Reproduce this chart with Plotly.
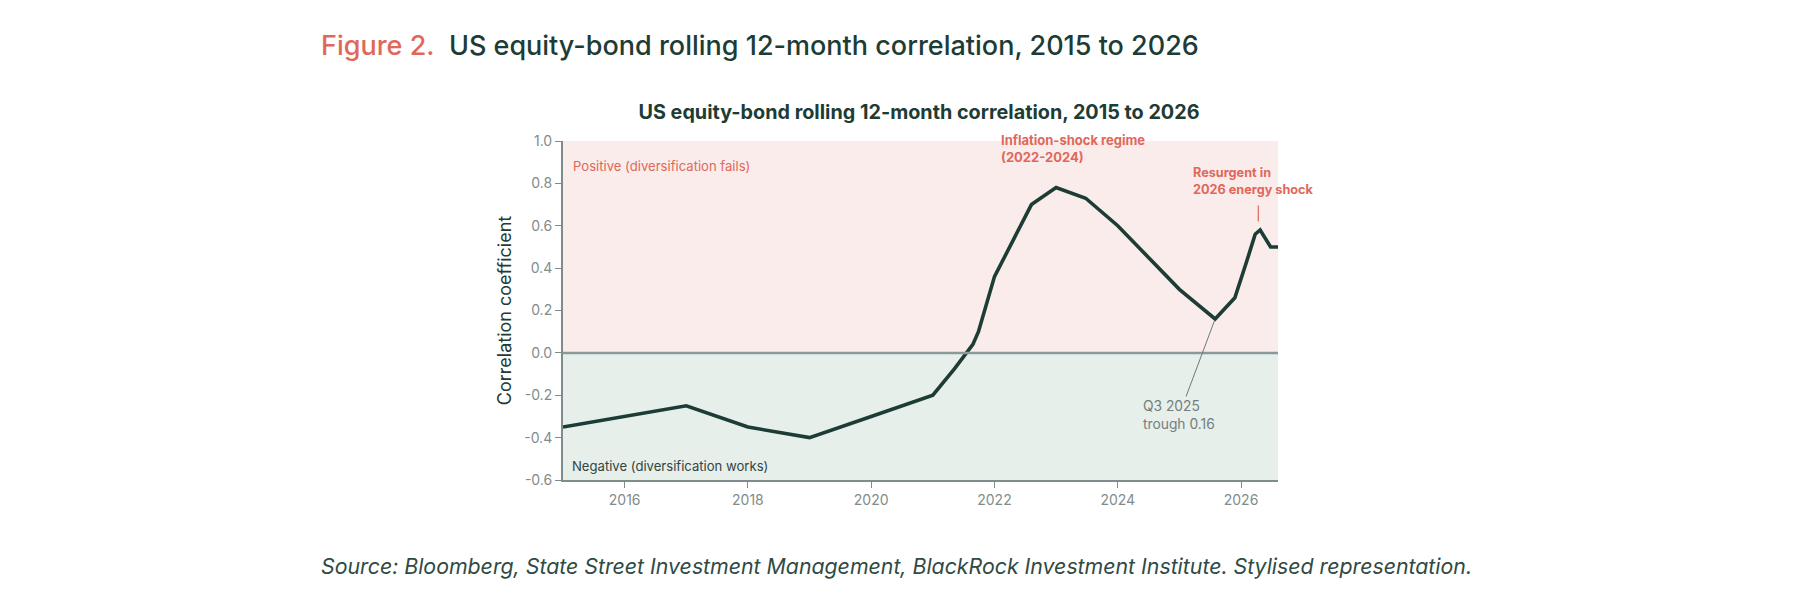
import plotly.graph_objects as go

# rolling 12-month correlation
years = [2015.0, 2016.0, 2017.0, 2018.0, 2019.0, 2020.0, 2021.0, 2021.35, 2021.65,
         2021.74, 2022.0, 2022.3, 2022.6, 2023.0, 2023.48, 2024.0, 2024.5, 2025.0,
         2025.58, 2025.9, 2026.09, 2026.23, 2026.31, 2026.48, 2026.6]
correlation = [-0.35, -0.30, -0.25, -0.35, -0.40, -0.30, -0.20, -0.075, 0.04,
               0.10, 0.36, 0.53, 0.70, 0.78, 0.73, 0.60, 0.45, 0.30,
               0.16, 0.26, 0.43, 0.56, 0.58, 0.50, 0.50]

x_ticks = [2016, 2018, 2020, 2022, 2024, 2026]
x_tick_labels = ["2016", "2018", "2020", "2022", "2024", "2026"]
y_ticks = [-0.6, -0.4, -0.2, 0.0, 0.2, 0.4, 0.6, 0.8, 1.0]
y_tick_labels = ["-0.6", "-0.4", "-0.2", "0.0", "0.2", "0.4", "0.6", "0.8", "1.0"]

trough_year, trough_value = 2025.58, 0.16
resurgence_year, resurgence_value = 2026.28, 0.62

DARK = "#1d3c35"
CORAL = "#e0685a"
GREY = "#7f8c8c"
FONT = "Inter"

# plot box in figure pixels
L, R, T, B = 555, 530, 133, 144
W, H = 1800 - L - R, 616 - T - B


def px(x):
    # page pixel -> paper x (page has an 8px body margin)
    return (x - 8 - L) / W


def py(y):
    return (616 - B - (y - 8)) / H


fig = go.Figure()

# shaded regimes
fig.add_hrect(y0=0, y1=1.0, fillcolor="#f9eceb", line_width=0, layer="below")
fig.add_hrect(y0=-0.6, y1=0, fillcolor="#e6efea", line_width=0, layer="below")
fig.add_hline(y=0, line=dict(color="#8c9999", width=2.5))

fig.add_trace(go.Scatter(
    x=years,
    y=correlation,
    mode="lines",
    line=dict(color=DARK, width=3.6),
    hoverinfo="x+y",
    showlegend=False
))

annotations = [
    # figure header
    dict(text="<span style='color:%s'>Figure 2.</span>&nbsp; US equity-bond rolling 12-month correlation, 2015 to 2026" % CORAL,
         xref="paper", yref="paper", x=px(319), y=py(46), xanchor="left", yanchor="middle",
         showarrow=False, font=dict(family=FONT, size=27, color=DARK, weight=500)),
    # source
    dict(text="<i>Source: Bloomberg, State Street Investment Management, BlackRock Investment Institute. Stylised representation.</i>",
         xref="paper", yref="paper", x=px(319), y=py(566), xanchor="left", yanchor="middle",
         showarrow=False, font=dict(family=FONT, size=21.3, color="#2f4a45")),
    # regime labels
    dict(text="Positive (diversification fails)", xref="paper", yref="paper",
         x=px(571), y=py(166), xanchor="left", yanchor="middle", showarrow=False,
         font=dict(family=FONT, size=13.1, color=CORAL)),
    dict(text="Negative (diversification works)", xref="paper", yref="paper",
         x=px(570), y=py(466), xanchor="left", yanchor="middle", showarrow=False,
         font=dict(family=FONT, size=13.1, color="#33453f")),
    dict(text="<b>Inflation-shock regime<br>(2022-2024)</b>", xref="paper", yref="paper",
         x=px(999), y=py(148), xanchor="left", yanchor="middle", align="left", showarrow=False,
         font=dict(family=FONT, size=13, color=CORAL)),
    dict(text="<b>Resurgent in<br>2026 energy shock</b>", xref="paper", yref="paper",
         x=px(1191), y=py(180.5), xanchor="left", yanchor="middle", align="left", showarrow=False,
         font=dict(family=FONT, size=12.7, color=CORAL)),
    dict(text="", xref="x", yref="y", x=resurgence_year, y=resurgence_value,
         ax=0, ay=-17.5, showarrow=True, arrowhead=0, arrowwidth=1.2, arrowcolor=CORAL),
    dict(text="Q3 2025<br>trough 0.16", xref="x", yref="y", x=trough_year, y=trough_value,
         ax=-36, ay=96, showarrow=True, arrowhead=0, arrowwidth=1, arrowcolor="#6f7a7a",
         standoff=2, align="left",
         font=dict(family=FONT, size=13.8, color="#737e7e")),
]

fig.update_layout(
    width=1800,
    height=616,
    margin=dict(l=L, r=R, t=T, b=B),
    paper_bgcolor="white",
    plot_bgcolor="white",
    title=dict(text="<b>US equity-bond rolling 12-month correlation, 2015 to 2026</b>",
               x=px(919), xref="paper", xanchor="center",
               y=1 - 104 / 616, yref="container", yanchor="middle",
               font=dict(family=FONT, size=19.8, color=DARK)),
    annotations=annotations,
    showlegend=False,
)

fig.update_xaxes(
    range=[2015.0, 2026.6],
    tickvals=x_ticks,
    ticktext=x_tick_labels,
    showgrid=False,
    zeroline=False,
    showline=True,
    linecolor=GREY,
    linewidth=2,
    ticks="outside",
    ticklen=6,
    tickcolor=GREY,
    tickfont=dict(family=FONT, size=14, color=GREY),
)
fig.update_yaxes(
    range=[-0.6, 1.0],
    tickvals=y_ticks,
    ticktext=y_tick_labels,
    showgrid=False,
    zeroline=False,
    showline=True,
    linecolor=GREY,
    linewidth=2,
    ticks="outside",
    ticklen=6,
    tickcolor=GREY,
    tickfont=dict(family=FONT, size=14, color=GREY),
    title=dict(text="Correlation coefficient", standoff=8,
               font=dict(family=FONT, size=18, color=DARK)),
)

fig.write_html("out.html")
